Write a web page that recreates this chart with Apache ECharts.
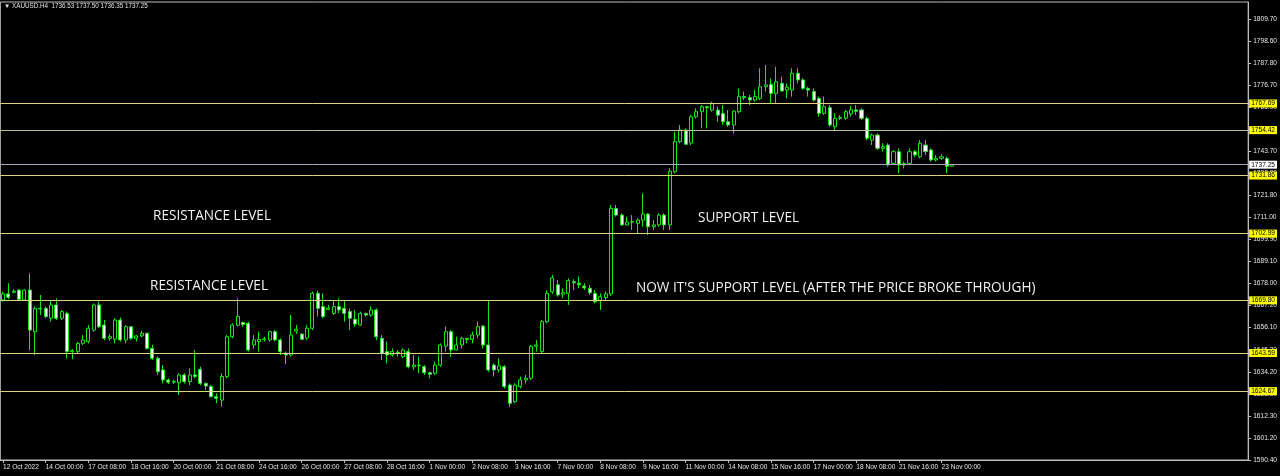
<!DOCTYPE html>
<html><head><meta charset="utf-8">
<script src="https://cdn.jsdelivr.net/npm/echarts@6/dist/echarts.min.js"></script>
<style>html,body{margin:0;padding:0;background:#000;}#c{width:1280px;height:476px;}</style>
</head><body><div id="c"></div>
<script>
// H4 bars, 12 Oct 2022 16:00 .. 23 Nov 2022 08:00
const barOpen = [1670.0,1673.0,1673.8,1674.9,1670.0,1674.9,1654.2,1665.8,1665.8,1660.9,1667.5,1660.9,1663.3,1644.3,1644.3,1648.4,1649.3,1655.0,1667.5,1657.5,1650.9,1650.5,1660.0,1650.1,1656.7,1650.9,1652.1,1653.4,1645.9,1641.0,1635.2,1630.2,1629.1,1628.8,1632.7,1629.4,1632.7,1635.5,1628.5,1627.0,1621.9,1620.2,1631.9,1651.7,1657.4,1658.8,1658.4,1647.6,1649.3,1650.4,1650.1,1654.2,1650.1,1643.5,1642.6,1654.5,1653.0,1651.0,1655.9,1673.3,1666.7,1665.3,1663.3,1666.7,1665.8,1664.2,1660.4,1657.5,1663.3,1662.5,1665.0,1650.9,1644.3,1642.6,1644.0,1641.8,1644.3,1636.8,1637.6,1636.8,1633.8,1633.5,1637.6,1647.0,1654.2,1645.1,1647.6,1650.9,1650.4,1652.6,1657.0,1647.6,1637.6,1635.2,1636.8,1627.7,1619.4,1626.9,1630.2,1631.0,1647.0,1644.3,1659.2,1674.0,1677.5,1672.9,1673.3,1679.1,1678.3,1676.9,1675.8,1673.3,1669.8,1671.2,1673.0,1715.5,1712.2,1707.3,1708.9,1708.1,1709.7,1712.7,1706.4,1707.3,1712.2,1707.3,1733.8,1748.7,1754.5,1748.0,1761.1,1763.6,1766.1,1764.4,1764.4,1762.8,1758.6,1757.0,1763.6,1771.1,1770.6,1769.4,1770.2,1776.0,1777.2,1772.7,1777.7,1774.4,1774.4,1782.7,1779.4,1775.2,1773.6,1770.2,1762.8,1765.6,1756.1,1760.3,1760.3,1762.5,1764.5,1764.5,1760.3,1749.5,1752.0,1745.4,1747.0,1737.9,1743.7,1737.1,1737.9,1743.7,1741.2,1747.0,1744.6,1739.6,1740.4,1740.4,1736.53];
const barClose = [1673.0,1671.3,1674.4,1670.3,1674.9,1655.0,1665.8,1665.5,1661.7,1667.5,1660.9,1664.2,1644.3,1644.8,1648.4,1650.1,1655.9,1667.5,1656.7,1650.9,1651.7,1660.0,1650.1,1656.7,1650.9,1652.1,1653.4,1645.9,1641.0,1634.3,1630.2,1629.1,1629.5,1632.7,1629.4,1632.7,1631.9,1628.5,1627.2,1621.9,1621.1,1631.9,1651.7,1657.5,1661.7,1657.7,1645.1,1650.1,1650.4,1650.6,1654.2,1650.1,1644.3,1642.6,1652.6,1655.4,1650.4,1655.9,1673.3,1665.8,1661.7,1666.0,1666.7,1665.0,1663.3,1660.9,1658.0,1663.3,1662.5,1665.0,1651.7,1643.5,1642.6,1644.3,1643.5,1645.1,1636.8,1637.6,1637.2,1633.8,1633.0,1637.6,1647.6,1654.2,1645.1,1647.6,1650.9,1650.4,1652.6,1656.7,1647.6,1635.2,1635.2,1637.2,1626.9,1618.6,1627.7,1630.2,1631.0,1646.8,1647.6,1659.2,1673.3,1681.0,1672.5,1673.6,1679.6,1678.5,1677.6,1676.0,1673.6,1669.1,1671.6,1673.0,1715.5,1712.2,1707.3,1708.7,1708.7,1709.7,1712.7,1706.4,1707.3,1712.2,1707.3,1734.0,1748.7,1754.5,1747.4,1761.1,1763.6,1766.1,1765.6,1767.8,1761.9,1758.6,1757.0,1763.9,1771.1,1770.6,1769.4,1771.1,1776.0,1776.9,1772.7,1778.5,1773.9,1775.8,1782.7,1779.4,1775.2,1774.4,1769.4,1762.8,1766.1,1757.0,1760.3,1760.8,1763.6,1764.5,1763.8,1760.3,1750.4,1752.0,1745.4,1746.2,1737.1,1743.7,1737.1,1737.9,1743.7,1742.1,1747.9,1743.7,1739.6,1740.4,1741.2,1736.5,1737.25];
const barLow = [1669.2,1670.3,1673.3,1670.0,1669.9,1645.1,1642.6,1662.5,1660.9,1659.2,1660.0,1660.0,1641.0,1640.5,1643.5,1647.6,1648.4,1654.2,1655.9,1650.1,1649.7,1648.4,1649.3,1648.4,1650.1,1649.3,1651.4,1645.4,1640.1,1632.7,1628.5,1628.2,1628.2,1622.7,1628.5,1627.7,1631.0,1627.7,1625.2,1621.6,1618.6,1617.0,1631.0,1650.9,1656.9,1656.7,1644.3,1645.9,1644.3,1649.3,1649.3,1649.3,1642.6,1638.1,1641.8,1653.1,1650.1,1650.1,1655.0,1661.7,1660.9,1664.9,1662.5,1663.3,1659.2,1655.0,1656.7,1657.0,1661.7,1661.7,1650.1,1640.1,1638.5,1641.8,1641.8,1641.0,1636.0,1635.2,1633.5,1632.7,1631.0,1632.7,1636.8,1644.3,1641.8,1644.8,1645.9,1648.4,1648.4,1650.9,1645.9,1634.3,1631.9,1634.0,1626.0,1616.9,1618.6,1626.0,1628.5,1630.2,1644.3,1643.5,1658.4,1673.0,1671.6,1670.8,1667.5,1674.9,1675.8,1674.9,1672.5,1668.3,1665.0,1670.0,1672.0,1711.4,1706.8,1707.0,1704.8,1703.1,1706.4,1702.3,1704.8,1706.4,1704.8,1704.8,1732.9,1747.9,1747.0,1747.0,1760.3,1755.3,1755.3,1763.6,1758.6,1757.0,1756.1,1752.8,1762.8,1769.4,1766.9,1768.6,1769.4,1773.6,1767.8,1767.8,1773.6,1770.2,1771.1,1777.7,1774.4,1771.1,1768.6,1761.1,1762.0,1756.1,1754.5,1759.5,1759.5,1761.1,1762.0,1759.5,1749.5,1747.0,1744.6,1743.7,1736.3,1737.1,1733.0,1735.4,1737.1,1741.2,1740.4,1742.1,1738.8,1738.8,1739.6,1733.0,1736.35];
const barHigh = [1674.1,1678.3,1675.3,1675.3,1675.3,1683.2,1666.7,1672.5,1666.7,1670.0,1670.8,1665.0,1664.2,1645.5,1649.2,1652.6,1657.5,1668.3,1669.2,1660.0,1653.0,1660.9,1661.3,1657.5,1657.0,1652.6,1654.7,1653.7,1647.6,1641.8,1637.6,1631.0,1630.2,1633.5,1633.5,1636.0,1645.1,1636.8,1628.9,1627.7,1623.6,1633.5,1652.6,1658.4,1670.8,1659.2,1659.2,1652.6,1654.2,1651.7,1654.7,1655.0,1650.9,1644.3,1662.5,1657.5,1653.4,1657.5,1674.1,1674.6,1673.3,1667.5,1670.0,1670.8,1670.0,1665.8,1665.0,1664.2,1663.7,1666.7,1665.8,1652.6,1649.3,1645.9,1645.1,1645.9,1645.9,1642.6,1641.8,1637.6,1634.3,1639.3,1648.4,1656.7,1655.0,1651.7,1651.7,1651.0,1654.2,1659.2,1657.5,1670.0,1638.5,1641.0,1637.6,1628.5,1628.5,1631.9,1632.7,1647.6,1650.1,1660.0,1674.9,1682.4,1679.9,1675.8,1680.7,1680.2,1681.6,1678.3,1677.4,1674.9,1673.3,1674.1,1717.2,1717.2,1713.1,1711.4,1712.2,1710.6,1723.0,1713.1,1709.7,1713.1,1713.1,1735.5,1753.7,1757.0,1755.3,1762.0,1765.3,1766.9,1766.5,1768.6,1766.1,1766.9,1764.4,1764.4,1775.2,1773.6,1771.9,1774.4,1785.2,1786.8,1780.2,1786.0,1781.0,1777.7,1785.2,1785.2,1780.2,1776.0,1775.2,1771.1,1771.1,1766.9,1762.8,1761.9,1764.5,1766.4,1766.9,1765.3,1761.1,1752.8,1752.8,1747.9,1747.9,1744.6,1745.4,1738.8,1745.4,1744.6,1749.5,1749.5,1745.4,1742.1,1742.4,1741.2,1737.50];

const timeTickIndex = [0,8,16,24,32,40,48,56,64,72,80,88,96,104,112,120,128,136,144,152,160,168,176];
const timeTickLabels = ['12 Oct 2022','14 Oct 00:00','17 Oct 08:00','18 Oct 16:00','20 Oct 00:00','21 Oct 08:00','24 Oct 16:00','26 Oct 00:00','27 Oct 08:00','28 Oct 16:00','1 Nov 00:00','2 Nov 08:00','3 Nov 16:00','7 Nov 00:00','8 Nov 08:00','9 Nov 16:00','11 Nov 00:00','14 Nov 08:00','15 Nov 16:00','17 Nov 00:00','18 Nov 08:00','21 Nov 16:00','23 Nov 00:00'];
const priceTickLabels = ['1590.40','1601.20','1612.30','1623.30','1634.20','1645.20','1656.10','1667.20','1678.00','1689.10','1699.90','1711.00','1721.80','1732.80','1743.70','1754.80','1765.90','1776.70','1787.80','1798.60','1809.70'];
const levelPrices = [1767.69, 1754.42, 1731.86, 1702.99, 1669.80, 1643.59, 1624.67];
const bidPrice = 1737.25;
const symbolName = 'XAUUSD.H4';
const noteTexts = ['RESISTANCE LEVEL','RESISTANCE LEVEL','SUPPORT LEVEL',"NOW IT'S SUPPORT LEVEL (AFTER THE PRICE BROKE THROUGH)"];

const SLOTS = 234;
const categories = [];
for (let i = 0; i < SLOTS; i++) categories.push(String(i));
const candles = barOpen.map((o, i) => [o, barClose[i], barLow[i], barHigh[i]]);
const tickMap = {};
timeTickIndex.forEach((idx, k) => { tickMap[idx] = timeTickLabels[k]; });

const P0 = 1590.4, STEP = 1590.4 / 145;
const last = barOpen.length - 1;
const header = '\u25BC ' + symbolName + '  ' + barOpen[last].toFixed(2) + ' ' + barHigh[last].toFixed(2) + ' ' + barLow[last].toFixed(2) + ' ' + barClose[last].toFixed(2);

const lineColor = '#dcd67e';
const markData = levelPrices.map((v, i) => ({
  yAxis: v,
  lineStyle: { color: i === 1 ? '#c2bd8c' : lineColor, width: 1, type: 'solid' },
  label: { show: true, position: 'end', distance: 1, formatter: v.toFixed(2), backgroundColor: '#ffff00', color: '#000', fontSize: 6.6, fontFamily: 'Liberation Sans', padding: [1, 2, 0, 2] }
}));
markData.push({
  yAxis: bidPrice,
  lineStyle: { color: '#a6a6b8', width: 1, type: 'solid' },
  label: { show: true, position: 'end', distance: 1, formatter: bidPrice.toFixed(2), backgroundColor: '#ffffff', color: '#000', fontSize: 6.6, fontFamily: 'Liberation Sans', padding: [1, 2, 0, 2] }
});

const noteStyle = { fill: '#f2f2f2', fontSize: 13.6, fontFamily: 'Open Sans', textVerticalAlign: 'middle' };

const chart = echarts.init(document.getElementById('c'), null, { renderer: 'canvas' });
chart.setOption({
  backgroundColor: '#000',
  animation: false,
  grid: { left: 0, right: 30, top: 2, bottom: 16, show: true, borderColor: '#bdbdbd', borderWidth: 1, backgroundColor: 'transparent' },
  xAxis: {
    type: 'category', data: categories, boundaryGap: true,
    axisLine: { show: true, lineStyle: { color: '#bdbdbd', width: 1 } },
    axisTick: { show: true, alignWithLabel: true, length: 3, inside: false, interval: (i) => tickMap[i] !== undefined, lineStyle: { color: '#bdbdbd' } },
    axisLabel: { show: true, interval: (i) => tickMap[i] !== undefined, formatter: (v, i) => tickMap[i] || '', color: '#e6e6e6', fontSize: 6.6, fontFamily: 'Liberation Sans', align: 'left', margin: 4 },
    splitLine: { show: false }
  },
  yAxis: {
    type: 'value', position: 'right', scale: true,
    min: P0, max: 1818.15, interval: STEP,
    axisLine: { show: true, lineStyle: { color: '#bdbdbd', width: 1 } },
    axisTick: { show: true, length: 3, lineStyle: { color: '#bdbdbd' } },
    axisLabel: {
      color: '#e6e6e6', fontSize: 6.6, fontFamily: 'Liberation Sans', margin: 5, showMaxLabel: false,
      formatter: (v) => {
        const j = Math.round((v - P0) / STEP);
        if (Math.abs(v - (P0 + j * STEP)) > 0.5 || j < 0 || j >= priceTickLabels.length) return '';
        return priceTickLabels[j];
      }
    },
    splitLine: { show: false }
  },
  series: [{
    type: 'candlestick',
    data: candles,
    barWidth: 3.6,
    itemStyle: { color: '#000000', color0: '#ffffff', borderColor: '#19e619', borderColor0: '#19e619', borderColorDoji: '#19e619', borderWidth: 1 },
    markLine: { silent: true, symbol: ['none', 'none'], animation: false, data: markData }
  }],
  graphic: [
    { type: 'text', left: 4, top: 3, style: { text: header, fill: '#e0e0e0', fontSize: 6.3, fontFamily: 'Liberation Sans' } },
    { type: 'text', x: 153, y: 216, style: Object.assign({ text: noteTexts[0] }, noteStyle) },
    { type: 'text', x: 150, y: 286, style: Object.assign({ text: noteTexts[1] }, noteStyle) },
    { type: 'text', x: 698, y: 218, style: Object.assign({ text: noteTexts[2] }, noteStyle) },
    { type: 'text', x: 636, y: 288, style: Object.assign({ text: noteTexts[3] }, noteStyle) }
  ]
});
</script>
</body></html>
